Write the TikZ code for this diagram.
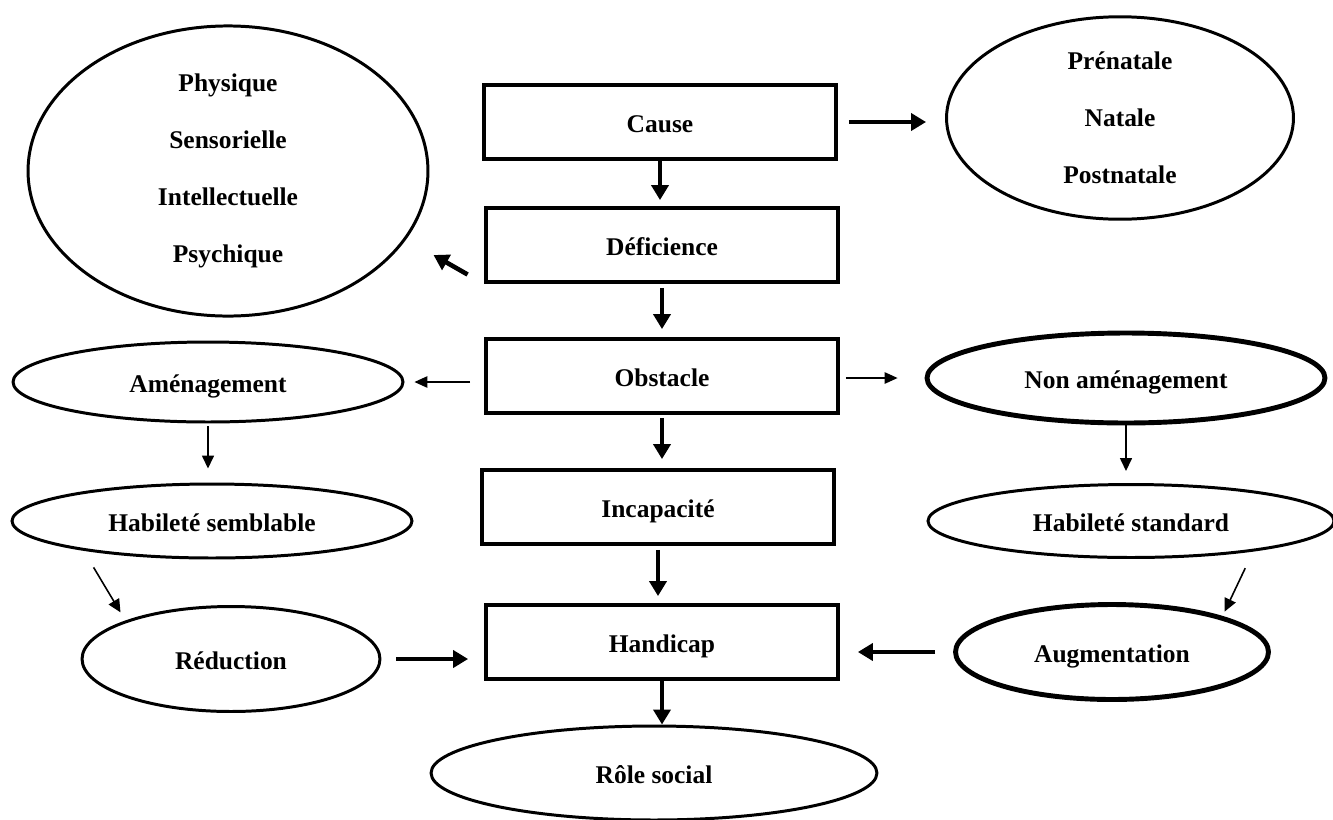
\documentclass[tikz,border=0pt]{standalone}
\usepackage{fontspec}
\setmainfont{Liberation Serif}
\usetikzlibrary{shapes.geometric,arrows.meta,positioning}

\begin{document}
\begin{tikzpicture}[x=0.02cm,y=-0.02cm,
    every node/.style={font=\bfseries\fontsize{14.5}{17}\selectfont},
    etape/.style={draw,line width=2.2pt,minimum width=7.04cm,minimum height=1.48cm,text height=15pt,text depth=3pt},
    ovale/.style={draw,ellipse,line width=1.7pt,inner sep=0pt,text height=15pt,text depth=3pt},
    liste/.style={draw,ellipse,line width=1.7pt,align=center,font=\bfseries\fontsize{14.5}{32.3}\selectfont},
    gros/.style={line width=2.6pt,-{Triangle[length=0.3cm,width=0.34cm]}},
    moyen/.style={line width=0.9pt,-{Triangle[length=0.26cm,width=0.24cm]}},
    fin/.style={line width=0.7pt,-{Triangle[length=0.26cm,width=0.23cm]}}]
      \useasboundingbox (0,0) rectangle (1333,819);
      % chaine centrale
      \node[etape] (cause) at (660,122) {Cause};
      \node[etape] (defic) at (662,245) {Déficience};
      \node[etape] (obst) at (662,376) {Obstacle};
      \node[etape] (incap) at (658,507) {Incapacité};
      \node[etape] (handi) at (662,642) {Handicap};
      \node[ovale,minimum width=8.92cm,minimum height=1.88cm] (role) at (654,773) {Rôle social};
      % ellipses du haut
      \node[liste,minimum width=8cm,minimum height=5.24cm] (types) at (228,171) {Physique\\Sensorielle\\Intellectuelle\\Psychique};
      \node[liste,minimum width=6.94cm,minimum height=4.04cm] (period) at (1120,118) {Prénatale\\Natale\\Postnatale};
      % branche gauche
      \node[ovale,minimum width=7.8cm,minimum height=1.6cm] (amen) at (208,382) {Aménagement};
      \node[ovale,minimum width=8cm,minimum height=1.48cm] (habsem) at (212,521) {Habileté semblable};
      \node[ovale,minimum width=5.96cm,minimum height=2.1cm] (reduc) at (231,659) {Réduction};
      % branche droite
      \node[ovale,line width=2.8pt,minimum width=7.96cm,minimum height=1.8cm] (nonamen) at (1126,378) {Non aménagement};
      \node[ovale,minimum width=8.12cm,minimum height=1.46cm] (habstd) at (1131,521) {Habileté standard};
      \node[ovale,line width=2.8pt,minimum width=6.26cm,minimum height=1.9cm] (augm) at (1112,652) {Augmentation};

      \draw[gros,shorten >=0.12cm] (cause.south) -- (cause.south |- defic.north);
      \draw[gros,shorten <=0.08cm,shorten >=0.16cm] (defic.south) -- (defic.south |- obst.north);
      \draw[gros,shorten <=0.06cm,shorten >=0.18cm] (obst.south) -- (obst.south |- incap.north);
      \draw[gros,shorten <=0.08cm,shorten >=0.14cm] (incap.south) -- (incap.south |- handi.north);
      \draw[gros] (handi.south) -- (handi.south |- role.north);
      \draw[gros,shorten <=0.22cm,shorten >=0.38cm] (cause.east) -- (cause.east -| period.west);
      \draw[gros,shorten <=0.38cm,shorten >=0.63cm] (defic.south west) -- (types.-21);
      \draw[fin,shorten <=0.28cm,shorten >=0.2cm] (obst.west |- amen.east) -- (amen.east);
      \draw[fin,shorten <=0.12cm,shorten >=0.54cm] (obst.east |- nonamen.west) -- (nonamen.west);
      \draw[moyen,shorten <=0.06cm,shorten >=0.28cm] (amen.south) -- (amen.south |- habsem.north);
      \draw[moyen,shorten >=0.24cm] (nonamen.south) -- (nonamen.south |- habstd.north);
      \draw[moyen,shorten <=0.39cm,shorten >=0.19cm] (habsem.193) -- (reduc.160);
      \draw[moyen,shorten <=0.37cm,shorten >=0.1cm] (habstd.-14) -- (augm.18);
      \draw[gros,shorten <=0.3cm,shorten >=0.32cm] (reduc.east) -- (reduc.east -| handi.west);
      \draw[gros,shorten <=0.36cm,shorten >=0.36cm] (augm.west) -- (augm.west -| handi.east);
    \end{tikzpicture}
\end{document}
